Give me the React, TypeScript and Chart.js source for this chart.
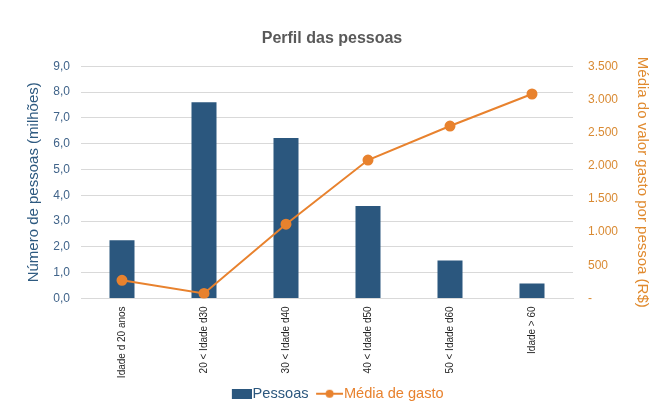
import React, { useEffect, useRef } from "react";
import { Chart, registerables } from "chart.js";

Chart.register(...registerables);

const categories = [
  "Idade d 20 anos",
  "20 < Idade d30",
  "30 < Idade d40",
  "40 < Idade d50",
  "50 < Idade d60",
  "Idade > 60",
];
const pessoas = [2.25, 7.6, 6.22, 3.58, 1.47, 0.58];
const mediaGasto = [272, 75, 1118, 2085, 2598, 3081];

const BLUE = "#2B577E";
const ORANGE = "#E8822E";
const FONT = "'Liberation Sans', Arial, sans-serif";

const IMG_W = 38;

function makeBox(): HTMLCanvasElement {
  const c = document.createElement("canvas");
  c.width = IMG_W;
  c.height = 10;
  const g = c.getContext("2d")!;
  g.fillStyle = BLUE;
  g.fillRect(IMG_W - 20, 0, 20, 10);
  return c;
}
function makeLine(): HTMLCanvasElement {
  const c = document.createElement("canvas");
  c.width = IMG_W;
  c.height = 10;
  const g = c.getContext("2d")!;
  g.strokeStyle = ORANGE;
  g.lineWidth = 2;
  g.beginPath();
  g.moveTo(IMG_W - 27, 5);
  g.lineTo(IMG_W, 5);
  g.stroke();
  g.fillStyle = ORANGE;
  g.beginPath();
  g.arc(IMG_W - 13.5, 5, 4, 0, Math.PI * 2);
  g.fill();
  return c;
}

export default function App() {
  const ref = useRef<HTMLCanvasElement>(null);
  useEffect(() => {
    const boxImg = makeBox();
    const lineImg = makeLine();
    const chart = new Chart(ref.current!, {
      type: "bar",
      data: {
        labels: categories,
        datasets: [
          {
            type: "line",
            label: "Média de gasto",
            data: mediaGasto,
            yAxisID: "y1",
            borderColor: ORANGE,
            backgroundColor: ORANGE,
            borderWidth: 2,
            pointRadius: 4.5,
            pointBackgroundColor: ORANGE,
            pointBorderColor: ORANGE,
            tension: 0,
            order: 0,
          },
          {
            type: "bar",
            label: "Pessoas",
            data: pessoas,
            yAxisID: "y",
            backgroundColor: BLUE,
            categoryPercentage: 1,
            barPercentage: 0.305,
            order: 1,
          },
        ],
      },
      options: {
        animation: false,
        responsive: false,
        layout: { padding: { left: 8, right: 0, top: 0, bottom: 0 } },
        plugins: {
          title: {
            display: true,
            text: "Perfil das pessoas",
            color: "#595959",
            font: { family: FONT, size: 16, weight: "bold" },
            padding: { top: 29, bottom: 18 },
          },
          tooltip: { enabled: false },
          legend: {
            position: "bottom",
            labels: {
              usePointStyle: true,
              pointStyleWidth: 25,
              padding: 3,
              font: { family: FONT, size: 14.6 },
              generateLabels: () => [
                {
                  text: "Pessoas",
                  fontColor: BLUE,
                  pointStyle: boxImg,
                  datasetIndex: 1,
                  fillStyle: BLUE,
                  strokeStyle: BLUE,
                  lineWidth: 0,
                  hidden: false,
                },
                {
                  text: "Média de gasto",
                  fontColor: ORANGE,
                  pointStyle: lineImg,
                  datasetIndex: 0,
                  fillStyle: ORANGE,
                  strokeStyle: ORANGE,
                  lineWidth: 0,
                  hidden: false,
                },
              ],
            },
          },
        },
        scales: {
          x: {
            grid: { display: false },
            border: { display: true, color: "#D9D9D9" },
            ticks: {
              color: "#262626",
              font: { family: FONT, size: 10 },
              minRotation: 90,
              maxRotation: 90,
              autoSkip: false,
              padding: 0,
            },
            afterFit: (s: any) => {
              s.height = 85;
            },
          },
          y: {
            position: "left",
            min: 0,
            max: 9,
            border: { display: false },
            grid: { color: "#D9D9D9", drawTicks: false },
            ticks: {
              stepSize: 1,
              padding: 11,
              color: "#41648A",
              font: { family: FONT, size: 12 },
              callback: (v: any) => Number(v).toFixed(1).replace(".", ","),
            },
            title: {
              display: true,
              text: "Número de pessoas (milhões)",
              color: "#2E5A80",
              font: { family: FONT, size: 15 },
              padding: { top: 17, bottom: 0 },
            },
            afterFit: (s: any) => {
              s.width = 73;
            },
          },
          y1: {
            position: "right",
            min: 0,
            max: 3500,
            border: { display: false },
            grid: { display: false, drawTicks: false },
            ticks: {
              stepSize: 500,
              padding: 15,
              color: "#D98A33",
              font: { family: FONT, size: 12 },
              callback: (v: any) =>
                Number(v) === 0
                  ? "-"
                  : String(v).replace(/\B(?=(\d{3})+(?!\d))/g, "."),
            },
            title: {
              display: true,
              text: "Média do valor gasto por pessoa (R$)",
              color: "#E08A2E",
              font: { family: FONT, size: 15 },
              padding: { top: 5, bottom: 0 },
            },
            afterFit: (s: any) => {
              s.width = 83;
            },
          },
        },
      },
    } as any);
    return () => chart.destroy();
  }, []);
  return (
    <div style={{ position: "fixed", left: 0, top: 0, width: 656, height: 411, background: "#fff" }}>
      <canvas ref={ref} width={656} height={411} style={{ display: "block" }} />
    </div>
  );
}
